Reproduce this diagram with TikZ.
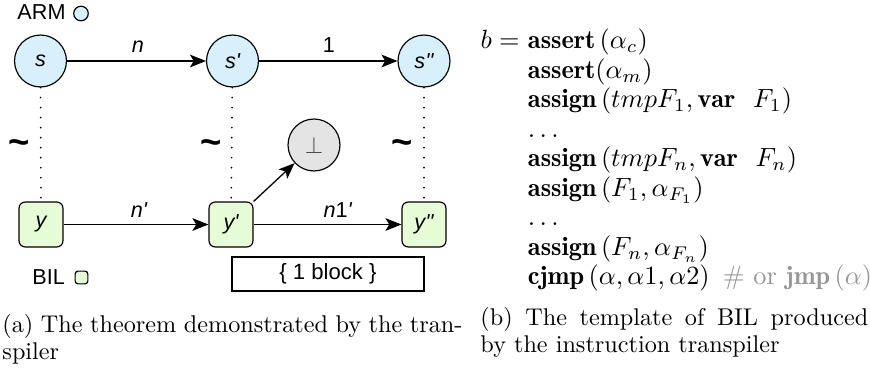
\documentclass[tikz,border=0pt]{standalone}
\usepackage{fontspec}
\usepackage{amsmath}
\newfontfamily\dsans{Liberation Sans}
\usetikzlibrary{arrows.meta}
\definecolor{armblue}{RGB}{216,240,252}
\definecolor{bilgreen}{RGB}{230,252,214}
\definecolor{botgray}{RGB}{228,228,228}
\definecolor{cmtgray}{RGB}{150,150,150}
\tikzset{
  lbl/.style={inner sep=0pt, font=\dsans\fontsize{9.2}{11}\selectfont},
  armnode/.style={circle, draw, line width=0.5pt, fill=armblue, minimum size=22.1pt, inner sep=0pt, font=\dsans\itshape\fontsize{9.2}{11}\selectfont},
  bilnode/.style={rectangle, rounded corners=2.6pt, draw, line width=0.5pt, fill=bilgreen, minimum width=18.7pt, minimum height=19.1pt, inner sep=0pt, font=\dsans\itshape\fontsize{9.2}{11}\selectfont},
  botnode/.style={circle, draw, line width=0.5pt, fill=botgray, minimum size=22.1pt, inner sep=0pt},
  arr/.style={-{Stealth[length=6.8pt,width=5.4pt,inset=1.6pt]}, line width=0.55pt},
  simline/.style={line width=0.8pt, dash pattern=on 0.01pt off 4.25pt, line cap=round},
  tld/.style={inner sep=0pt, anchor=base, font=\dsans\bfseries\fontsize{15.5}{15.5}\selectfont},
  txt/.style={inner sep=0pt, anchor=base west},
  captxt/.style={inner sep=0pt, anchor=base west, font=\fontsize{10.3}{12.4}\selectfont},
  mth/.style={inner sep=0pt, anchor=base west, scale=1.12, transform shape},
}
\begin{document}
\begin{tikzpicture}[x=0.4255pt,y=-0.4255pt]
\useasboundingbox (0,0) rectangle (870,371);
% legend
\node[lbl, anchor=base west] (armtxt) at (17,20) {ARM};
\node[circle, draw, line width=0.5pt, fill=armblue, minimum size=6.2pt, inner sep=0pt] (armleg) at (81,13.5) {};
\node[lbl, anchor=base west] (biltxt) at (32,285) {BIL};
\node[rectangle, rounded corners=1.2pt, draw, line width=0.5pt, fill=bilgreen, minimum size=5.4pt, inner sep=0pt] (billeg) at (81.5,277.5) {};
% ARM states
\node[armnode] (s) at (40.5,61) {s};
\node[armnode] (s1) at (232.5,61) {s'};
\node[armnode] (s2) at (424,61) {s''};
% BIL states
\node[bilnode] (y) at (41,224.5) {y};
\node[bilnode] (y1) at (231,224.5) {y'};
\node[bilnode] (y2) at (424,224.5) {y''};
% bottom
\node[botnode] (bot) at (314,145) {\color{black!75}$\perp$};
% block box
\node[draw, line width=0.5pt, minimum width=81.7pt, minimum height=14.5pt, inner sep=0pt, font=\dsans\fontsize{9.4}{11}\selectfont] (blk) at (328,274) {\{ 1 block \}};
% arrows
\draw[arr] (s) -- (s1);
\draw[arr] (s1) -- (s2);
\draw[arr] (y) -- (y1);
\draw[arr] (y1) -- (y2);
\draw[arr] (y1.north east) -- (bot);
% edge labels
\node[lbl, anchor=base, font=\dsans\itshape\fontsize{9.2}{11}\selectfont] (ln) at (138,53) {n};
\node[lbl, anchor=base] (l1) at (329,53) {1};
\node[lbl, anchor=base, font=\dsans\itshape\fontsize{9.2}{11}\selectfont] (lnp) at (139,218) {n'};
\node[lbl, anchor=base] (ln1p) at (338,218) {\textit{n}1\textit{'}};
% simulation relations
\draw[simline] (s) -- (y);
\draw[simline] (s1) -- (y1);
\draw[simline] (s2) -- (y2);
\node[tld] (t0) at (19,155) {\char"007E};
\node[tld] (t1) at (211,155) {\char"007E};
\node[tld] (t2) at (402.5,155) {\char"007E};
% captions
\node[captxt] (capa1) at (2,333) {\makebox[195.7pt][s]{(a) The theorem demonstrated by the tran-}};
\node[captxt] (capa2) at (2,360) {spiler};
\node[captxt] (capb1) at (480,326) {\makebox[165pt][s]{(b) The template of BIL produced}};
\node[captxt] (capb2) at (480,353) {by the instruction transpiler};
% BIL template
\node[mth] (b0) at (480,49) {$b = {}$};
\node[mth] (m1) at (b0.base east) {$\mathbf{assert}\,(\alpha_c)$};
\path (b0.base east) ++(0,29.5) node[mth] (m2) {$\mathbf{assert}(\alpha_m)$};
\path (b0.base east) ++(0,59) node[mth] (m3) {$\mathbf{assign}\,(tmpF_1, \mathbf{var}\ \ F_1)$};
\path (b0.base east) ++(0,88.5) node[mth] (m4) {$\ldots$};
\path (b0.base east) ++(0,118) node[mth] (m5) {$\mathbf{assign}\,(tmpF_n, \mathbf{var}\ \ F_n)$};
\path (b0.base east) ++(0,147.5) node[mth] (m6) {$\mathbf{assign}\,(F_1, \alpha_{F_1})$};
\path (b0.base east) ++(0,177) node[mth] (m7) {$\ldots$};
\path (b0.base east) ++(0,206.5) node[mth] (m8) {$\mathbf{assign}\,(F_n, \alpha_{F_n})$};
\path (b0.base east) ++(0,236) node[mth] (m9) {$\mathbf{cjmp}\,(\alpha, \alpha 1, \alpha 2)\ \,{\color{cmtgray}\#\ \text{or}\ \mathbf{jmp}\,(\alpha)}$};
\end{tikzpicture}
\end{document}
